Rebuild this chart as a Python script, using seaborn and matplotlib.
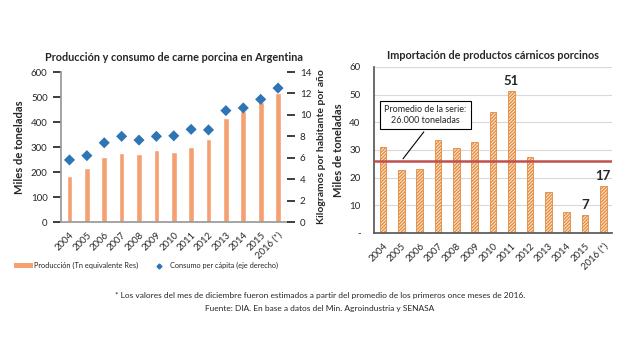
#!/usr/bin/env python3
"""
Producción, consumo e importación de carne porcina en Argentina (2004-2016)
"""

import numpy as np
import pandas as pd
import matplotlib
matplotlib.use('Agg')
import matplotlib.pyplot as plt
from matplotlib.patches import Patch
from matplotlib.lines import Line2D
import seaborn as sns

# Datos
anios = ['2004', '2005', '2006', '2007', '2008', '2009', '2010',
         '2011', '2012', '2013', '2014', '2015', '2016 (*)']
produccion = [185, 215, 262, 276, 274, 290, 280, 300, 332, 418, 445, 481, 517]
consumo = [5.8, 6.2, 7.4, 8.0, 7.65, 8.0, 8.05, 8.65, 8.6, 10.4, 10.65, 11.45, 12.5]
importacion = [31.1, 22.6, 23.1, 33.5, 30.6, 33.0, 43.7, 51.2, 27.5, 14.7, 7.5, 6.6, 16.9]
promedio = 26
etiquetas = {'2011': '51', '2015': '7', '2016 (*)': '17'}

sns.set_theme(style='white')
plt.rcParams['font.family'] = ['Lato', 'DejaVu Sans']
plt.rcParams['hatch.linewidth'] = 0.9

NARANJA = '#F4A071'
AZUL = '#2E75B6'
HATCH = '#E48A3C'
ROJO = '#C0504D'

fig = plt.figure(figsize=(6.4, 3.6), dpi=100)

# --- Gráfico 1: producción y consumo ---
ax1 = fig.add_axes([0.095, 0.383, 0.353, 0.417])
df1 = pd.DataFrame({'anio': anios, 'produccion': produccion, 'consumo': consumo})
sns.barplot(data=df1, x='anio', y='produccion', color=NARANJA, width=0.33,
            saturation=1, ax=ax1)
ax1.set_ylim(0, 600)
ax1.set_yticks(range(0, 601, 100))
ax1.set_xlabel('')
ax1.set_ylabel('Miles de toneladas', fontsize=8, fontweight='bold')
ax1.tick_params(axis='x', labelsize=6.8, rotation=45, pad=0)
ax1.tick_params(axis='y', labelsize=7)
for lbl in ax1.get_xticklabels():
    lbl.set_ha('right')
    lbl.set_rotation_mode('anchor')
for s in ['top', 'right']:
    ax1.spines[s].set_visible(False)
for s in ['left', 'bottom']:
    ax1.spines[s].set_color('#999999')
ax1.set_title('Producción y consumo de carne porcina en Argentina',
              fontsize=7.8, fontweight='bold', pad=8)

ax1b = ax1.twinx()
sns.scatterplot(data=df1, x='anio', y='consumo', marker='D', color=AZUL,
                s=32, edgecolor='none', ax=ax1b)
ax1b.set_ylim(0, 14)
ax1b.set_yticks(range(0, 15, 2))
ax1b.set_ylabel('Kilogramos por habitante por año', fontsize=7.5, fontweight='bold')
ax1b.tick_params(axis='y', labelsize=7)
for s in ['top', 'right', 'left', 'bottom']:
    ax1b.spines[s].set_visible(False)
ax1.set_xlim(-0.5, len(anios) - 0.5)

handles = [Patch(facecolor=NARANJA, edgecolor='none'),
           Line2D([], [], marker='D', color=AZUL, linestyle='none', markersize=2.5)]
fig.legend(handles, ['Producción (Tn equivalente Res)', 'Consumo per cápita (eje derecho)'],
           loc='center', bbox_to_anchor=(0.228, 0.262), ncol=2, frameon=False,
           fontsize=5.3, handlelength=2.6, handleheight=0.6, handletextpad=0.2,
           columnspacing=1.5, borderpad=0, borderaxespad=0)

# --- Gráfico 2: importación ---
ax2 = fig.add_axes([0.584, 0.353, 0.373, 0.461])
df2 = pd.DataFrame({'anio': anios, 'importacion': importacion})
sns.barplot(data=df2, x='anio', y='importacion', color='#FBE3CF', width=0.36,
            saturation=1, ax=ax2, edgecolor=HATCH, linewidth=0.6, hatch='//////////',
            zorder=2)
ax2.set_ylim(0, 60)
ax2.set_yticks(range(0, 61, 10))
ax2.set_yticklabels(['-'] + [str(v) for v in range(10, 61, 10)])
ax2.yaxis.grid(True, color='#D9D9D9', linewidth=0.8, zorder=0)
ax2.set_axisbelow(True)
ax2.set_xlabel('')
ax2.set_ylabel('Miles de toneladas', fontsize=8, fontweight='bold')
ax2.tick_params(axis='x', labelsize=6.8, rotation=45, pad=0)
ax2.tick_params(axis='y', labelsize=7)
for lbl in ax2.get_xticklabels():
    lbl.set_ha('right')
    lbl.set_rotation_mode('anchor')
for s in ['top', 'right']:
    ax2.spines[s].set_visible(False)
for s in ['left', 'bottom']:
    ax2.spines[s].set_color('#595959')
ax2.set_xlim(-0.5, len(anios) - 0.5)
ax2.axhline(promedio, color=ROJO, linewidth=1.8, zorder=3)
for i, a in enumerate(anios):
    if a in etiquetas:
        ax2.text(i, importacion[i] + 1.5, etiquetas[a], ha='center', va='bottom',
                 fontsize=9.5, fontweight='bold')
ax2.annotate('Promedio de la serie:\n26.000 toneladas', xy=(1.0, promedio),
             xytext=(2.3, 42.6), ha='center', va='center', fontsize=6.5,
             bbox=dict(boxstyle='square,pad=0.5', facecolor='white',
                       edgecolor='black', linewidth=0.8),
             arrowprops=dict(arrowstyle='-', color='black', linewidth=0.8,
                             relpos=(0.55, 0)),
             zorder=5)
ax2.set_title('Importación de productos cárnicos porcinos',
              fontsize=7.8, fontweight='bold', pad=6)

# Notas
fig.text(0.5, 0.172, '* Los valores del mes de diciembre fueron estimados a partir del '
         'promedio de los primeros once meses de 2016.', ha='center', fontsize=6)
fig.text(0.5, 0.136, 'Fuente: DIA. En base a datos del Min. Agroindustria y SENASA',
         ha='center', fontsize=6)

fig.savefig('out.png', dpi=100)
